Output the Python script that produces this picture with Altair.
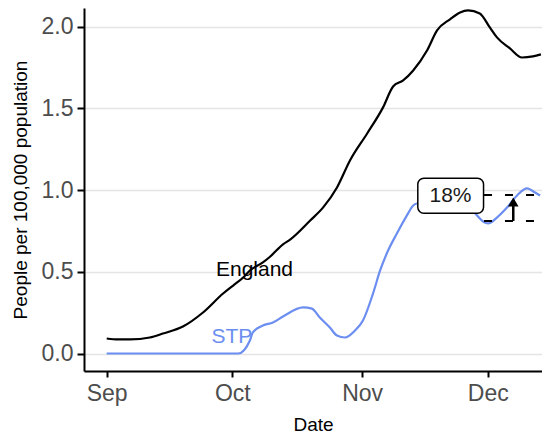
import altair as alt
import pandas as pd

# ---- data (day offsets from 1 Sep 2020, values per 100,000) ----
eng_day = [0.0, 2.7, 5.6, 10.3, 13.4, 18.2, 23.0, 27.8, 30.2, 32.6, 34.2, 37.3, 39.0,
           42.1, 43.8, 48.6, 51.7, 55.0, 58.1, 62.2, 66.0, 68.4, 70.8, 73.2, 76.5,
           78.9, 82.0, 84.4, 86.3, 89.1, 91.5, 93.2, 96.3, 99.2, 101.8, 103.7]
eng_val = [0.092, 0.086, 0.086, 0.098, 0.122, 0.165, 0.251, 0.367, 0.416, 0.465, 0.508,
           0.557, 0.592, 0.668, 0.697, 0.814, 0.894, 1.016, 1.181, 1.346, 1.506, 1.634,
           1.671, 1.732, 1.854, 1.977, 2.045, 2.087, 2.099, 2.081, 1.995, 1.934, 1.867,
           1.811, 1.818, 1.830]

stp_day = [0.0, 31.4, 34.2, 34.9, 37.3, 39.7, 42.1, 46.9, 49.0, 50.9, 53.3, 55.0, 56.9,
           59.3, 61.2, 63.6, 65.3, 67.2, 69.3, 71.7, 73.2, 74.1, 80.0, 87.0, 90.4, 91.1,
           93.2, 95.6, 98.0, 100.4, 102.3, 103.5]
stp_val = [0.0, 0.0, 0.080, 0.129, 0.171, 0.190, 0.226, 0.282, 0.275, 0.220, 0.159, 0.110,
           0.098, 0.141, 0.202, 0.367, 0.508, 0.630, 0.734, 0.845, 0.906, 0.918, 0.930,
           0.880, 0.800, 0.796, 0.832, 0.893, 0.967, 1.010, 0.985, 0.967]

series_labels = ["England", "STP"]
label_day = [35.3, 29.9]
label_val = [0.508, 0.101]

# annotation: dashed reference levels, arrow and percentage label
ref_levels = [0.970, 0.811]
ref_start_days = [85.1, 90.1]
ref_end_days = [102.1, 102.1]
arrow_day = 97.1
arrow_from = 0.811
arrow_head = 0.927
box_days = [74.3, 90.0]
box_vals = [1.072, 0.858]
pct_text = "18%"
pct_day = 82.1
pct_val = 0.962

x_domain_days = [-5.42, 103.96]
y_domain = [-0.107, 2.114]
y_ticks = [0.0, 0.5, 1.0, 1.5, 2.0]
month_ticks = ["2020-09-01", "2020-10-01", "2020-11-01", "2020-12-01"]

STP_COLOR = "#6B8EF0"
FONT = "Liberation Sans"

base = pd.Timestamp("2020-09-01", tz="UTC")


def iso(days):
    return (base + pd.to_timedelta(days, unit="D")).strftime("%Y-%m-%dT%H:%M:%SZ")


def ms_days(days):
    return int((base + pd.to_timedelta(days, unit="D")).value // 1_000_000)


def ms_str(s):
    return int(pd.Timestamp(s, tz="UTC").value // 1_000_000)


lines_df = pd.concat([
    pd.DataFrame({"date": [iso(d) for d in eng_day], "value": eng_val, "series": "England"}),
    pd.DataFrame({"date": [iso(d) for d in stp_day], "value": stp_val, "series": "STP"}),
])
labels_df = pd.DataFrame({"date": [iso(d) for d in label_day], "value": label_val,
                          "series": series_labels})
ref_df = pd.DataFrame({"date": [iso(d) for d in ref_start_days],
                       "date2": [iso(d) for d in ref_end_days],
                       "value": ref_levels})
arrow_df = pd.DataFrame({"date": [iso(arrow_day)], "value": [arrow_from],
                         "value2": [arrow_head]})
head_df = pd.DataFrame({"date": [iso(arrow_day)], "value": [arrow_head]})
box_df = pd.DataFrame({"date": [iso(box_days[0])], "date2": [iso(box_days[1])],
                       "value": [box_vals[0]], "value2": [box_vals[1]]})
pct_df = pd.DataFrame({"date": [iso(pct_day)], "value": [pct_val], "label": [pct_text]})

x_scale = alt.Scale(type="utc", domain=[ms_days(x_domain_days[0]), ms_days(x_domain_days[1])])
y_scale = alt.Scale(domain=y_domain, nice=False, zero=False)

x_axis = alt.Axis(title="Date", values=[ms_str(m) for m in month_ticks],
                  labelExpr="utcFormat(datum.value, '%b')",
                  grid=False, tickSize=6, labelPadding=5, titlePadding=10)
y_axis = alt.Axis(title="People per 100,000 population", values=y_ticks, format=".1f",
                  grid=True, tickSize=7, labelPadding=4, titlePadding=11)

X = alt.X("date:T", scale=x_scale, axis=x_axis)
Y = alt.Y("value:Q", scale=y_scale, axis=y_axis)

color = alt.Color("series:N", scale=alt.Scale(domain=series_labels,
                                              range=["black", STP_COLOR]), legend=None)

lines = alt.Chart(lines_df).mark_line(strokeWidth=2.2, interpolate="monotone").encode(
    x=X, y=Y, color=color, detail="series:N")

labels = alt.Chart(labels_df).mark_text(fontSize=21, font=FONT).encode(
    x=X, y=Y, color=color, text="series:N")

refs = alt.Chart(ref_df).mark_rule(color="black", strokeWidth=2, strokeDash=[8, 13]).encode(
    x=X, x2="date2:T", y=Y)

arrow = alt.Chart(arrow_df).mark_rule(color="black", strokeWidth=2.5).encode(
    x=X, y=Y, y2="value2:Q")

head = alt.Chart(head_df).mark_point(shape="triangle-up", filled=True, size=110,
                                     color="black", opacity=1).encode(x=X, y=Y)

box = alt.Chart(box_df).mark_rect(fill="white", stroke="black", strokeWidth=1.5,
                                  cornerRadius=6).encode(x=X, x2="date2:T", y=Y, y2="value2:Q")

pct = alt.Chart(pct_df).mark_text(fontSize=21, font=FONT, color="#1a1a1a").encode(
    x=X, y=Y, text="label:N")

chart = alt.layer(lines, labels, refs, arrow, head, box, pct).properties(
    width=458, height=363,
    autosize=alt.AutoSizeParams(type="none"),
    padding={"left": 76, "top": 0, "right": 0, "bottom": 62},
).configure_view(stroke=None).configure_axis(
    domainColor="black", domainWidth=2, tickColor="black", tickWidth=2,
    labelColor="#4d4d4d", labelFont=FONT, labelFontSize=23,
    titleFont=FONT, titleFontSize=19, titleColor="black", titleFontWeight="normal",
    gridColor="#e4e4e4", gridWidth=1.5,
)

chart.save("out.html", embed_options={"renderer": "svg", "actions": False})
